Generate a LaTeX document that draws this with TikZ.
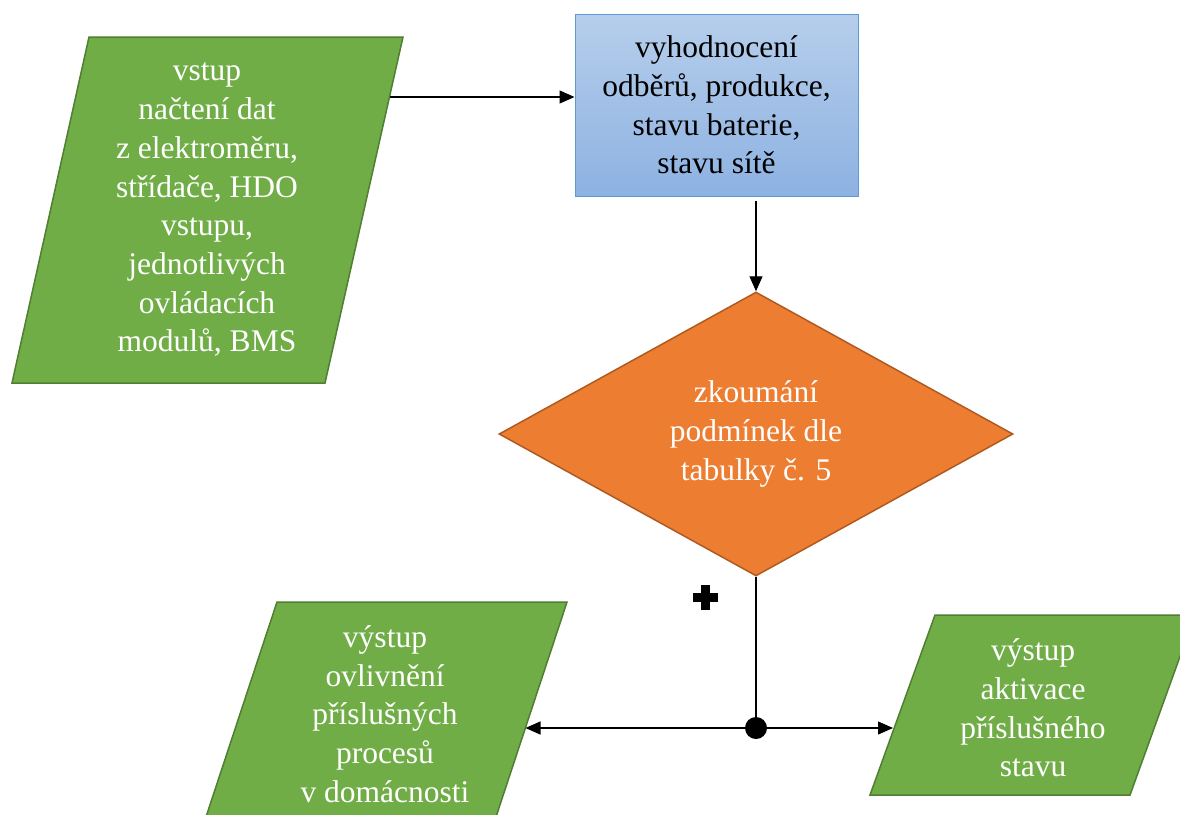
\documentclass[tikz,border=0pt]{standalone}
\usepackage{fontspec}
\setmainfont{Liberation Serif}
\newfontfamily\flowfont{Liberation Serif}
\usetikzlibrary{shapes.geometric,arrows.meta}
\definecolor{iogreen}{RGB}{112,173,71}
\definecolor{iogreendark}{RGB}{80,126,50}
\definecolor{condorange}{RGB}{237,125,49}
\definecolor{condorangedark}{RGB}{174,90,33}
\definecolor{boxbluetop}{RGB}{182,206,235}
\definecolor{boxbluebot}{RGB}{141,178,226}
\definecolor{boxblueline}{RGB}{91,155,213}

\begin{document}
\begin{tikzpicture}[x=1pt,y=-1pt,
  txt/.style={align=center,font=\flowfont\fontsize{31.5}{38.7}\selectfont},
  io/.style={fill=iogreen,draw=iogreendark,line width=1.5pt},
  flow/.style={-{Triangle[length=15pt,width=13pt]},line width=1.3pt}]
  \useasboundingbox (0,0) rectangle (1180,814);
  \clip (0,0) rectangle (1180,814);
  \draw[io] (89,37) -- (403,37) -- (325,383) -- (12,383) -- cycle;
  \draw[io] (277,602) -- (567,602) -- (493,826) -- (203,826) -- cycle;
  \draw[io] (935,615) -- (1195,615) -- (1130,795) -- (870,795) -- cycle;
  \node[txt,text=white] (vstup) at (207,210) {vstup\\načtení dat\\z elektroměru,\\střídače, HDO\\vstupu,\\jednotlivých\\ovládacích\\modulů, BMS};
  \node[txt,text=white] (ovliv) at (385,714) {výstup\\ovlivnění\\příslušných\\procesů\\v domácnosti};
  \node[txt,text=white] (aktiv) at (1033,708) {výstup\\aktivace\\příslušného\\stavu};
  \node[txt,draw=boxblueline,line width=1pt,top color=boxbluetop,bottom color=boxbluebot,
        minimum width=283pt,minimum height=182pt] (vyhod) at (716.5,105) {vyhodnocení\\odběrů, produkce,\\stavu baterie,\\stavu sítě};
  \node[txt,text=white,diamond,fill=condorange,draw=condorangedark,line width=1.5pt,
        inner sep=0pt,minimum width=514pt,minimum height=284pt] (cond) at (756,434) {zkoumání\\podmínek dle\\tabulky č. 5};
  \node[circle,fill=black,minimum size=22pt,inner sep=0pt] (jn) at (756,728) {};
  \coordinate (vstupE) at (389.5,97);
  \coordinate (ovlivE) at (525.5,728);
  \coordinate (aktivW) at (893,728);
  \draw[flow] (vstupE) -- (vstupE -| vyhod.west);
  \draw[flow] ([yshift=-4pt]cond.north |- vyhod.south) -- (cond.north);
  \draw[line width=2pt] (cond.south) -- (jn);
  \draw[flow] (jn) -- (ovlivE);
  \draw[flow] (jn) -- (aktivW);
  \fill (692.5,592.5) rectangle (717.5,601.5);
  \fill (700.5,584.5) rectangle (709.5,609.5);
\end{tikzpicture}
\end{document}
